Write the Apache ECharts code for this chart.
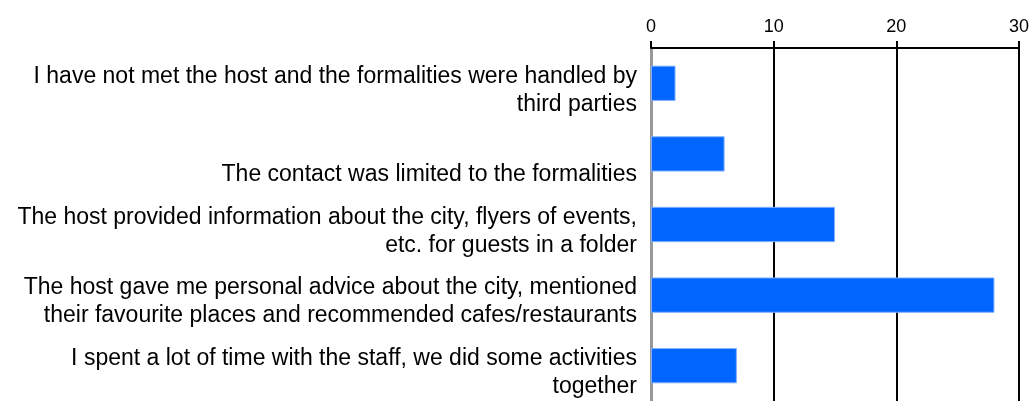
<!DOCTYPE html>
<html>
<head>
<meta charset="utf-8">
<script src="https://cdn.jsdelivr.net/npm/echarts@6/dist/echarts.min.js"></script>
<style>
  html, body { margin: 0; padding: 0; background: #fff; }
  #chart { width: 1032px; height: 401px; }
</style>
</head>
<body>
<div id="chart"></div>
<script>
const categories = [
  'I have not met the host and the formalities were handled by\nthird parties',
  'The contact was limited to the formalities',
  'The host provided information about the city, flyers of events,\netc. for guests in a folder',
  'The host gave me personal advice about the city, mentioned\ntheir favourite places and recommended cafes/restaurants',
  'I spent a lot of time with the staff, we did some activities\ntogether'
]
const values = [2, 6, 15, 28, 7]
const xTicks = [0, 10, 20, 30]

const chart = echarts.init(document.getElementById('chart'))
chart.setOption({
  animation: false,
  grid: { left: 651, right: 13, top: 48, bottom: -6, containLabel: false },
  xAxis: {
    type: 'value',
    position: 'top',
    min: xTicks[0],
    max: xTicks[xTicks.length - 1],
    interval: 10,
    axisLine: { show: true, lineStyle: { color: '#000', width: 2 } },
    axisTick: { show: true, length: 7, lineStyle: { color: '#000', width: 2 } },
    axisLabel: { color: '#000', fontSize: 18, fontFamily: 'Liberation Sans, Arial, sans-serif', margin: 12 },
    splitLine: { show: true, lineStyle: { color: '#000', width: 2 } }
  },
  yAxis: {
    type: 'category',
    inverse: true,
    data: categories,
    axisLine: { show: true, lineStyle: { color: '#999', width: 3 } },
    axisTick: { show: false },
    axisLabel: {
      interval: 0,
      hideOverlap: false,
      color: '#000',
      fontSize: 23,
      lineHeight: 28,
      align: 'right',
      margin: 14,
      fontFamily: 'Liberation Sans, Arial, sans-serif',
      // small spacer on top pushes text a bit below the bar centre;
      // single-line labels sit on the lower line, like the original
      formatter: (v) => '{s| }\n' + (v.indexOf('\n') < 0 ? '\n' + v : v),
      rich: { s: { fontSize: 6, lineHeight: 14 } }
    }
  },
  series: [{
    type: 'bar',
    data: values,
    barWidth: '50%',
    itemStyle: { color: '#0066ff', borderColor: '#80b0ff', borderWidth: 1 }
  }]
})
</script>
</body>
</html>
